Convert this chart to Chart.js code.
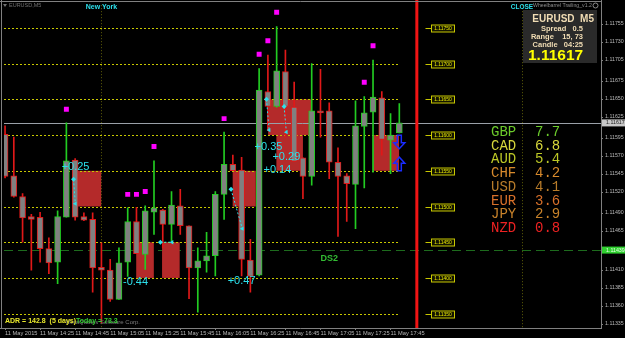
<!DOCTYPE html>
<html>
<head>
<meta charset="utf-8">
<title>EURUSD M5</title>
<style>
  html, body { margin: 0; padding: 0; background: #000; }
  canvas { display: block; }
</style>
</head>
<body>
<canvas id="chart" width="625" height="338"></canvas>
<script src="https://cdn.jsdelivr.net/npm/chart.js@4.4.1/dist/chart.umd.min.js"></script>
<script>
// EURUSD M5, 11 May 2015
var times = ['14:05','14:10','14:15','14:20','14:25','14:30','14:35','14:40','14:45','14:50',
  '14:55','15:00','15:05','15:10','15:15','15:20','15:25','15:30','15:35','15:40',
  '15:45','15:50','15:55','16:00','16:05','16:10','16:15','16:20','16:25','16:30',
  '16:35','16:40','16:45','16:50','16:55','17:00','17:05','17:10','17:15','17:20',
  '17:25','17:30','17:35','17:40','17:45','17:50'];
var opens = [1.11601,1.11543,1.11514,1.11486,1.11485,1.11441,1.11422,1.11485,1.11565,1.11486,
  1.11482,1.11415,1.11411,1.11370,1.11422,1.11479,1.11433,1.11492,1.11495,1.11475,
  1.11501,1.11473,1.11414,1.11424,1.11431,1.11517,1.11559,1.11551,1.11425,1.11404,
  1.11661,1.11640,1.11689,1.11639,1.11568,1.11542,1.11634,1.11634,1.11562,1.11543,
  1.11531,1.11612,1.11632,1.11652,1.11593,1.11603];
var highs = [1.11613,1.11597,1.11518,1.11489,1.11492,1.11456,1.11494,1.11617,1.11567,1.11491,
  1.11491,1.11449,1.11426,1.11442,1.11498,1.11499,1.11501,1.11564,1.11496,1.11521,
  1.11524,1.11473,1.11442,1.11464,1.11521,1.11604,1.11572,1.11569,1.11454,1.11693,
  1.11712,1.11752,1.11719,1.11674,1.11568,1.11700,1.11692,1.11645,1.11582,1.11546,
  1.11648,1.11654,1.11705,1.11661,1.11630,1.11644];
var lows = [1.11540,1.11513,1.11450,1.11411,1.11422,1.11406,1.11392,1.11485,1.11481,1.11480,
  1.11380,1.11337,1.11367,1.11370,1.11402,1.11434,1.11412,1.11461,1.11442,1.11452,
  1.11461,1.11371,1.11352,1.11408,1.11403,1.11482,1.11550,1.11403,1.11380,1.11403,
  1.11606,1.11639,1.11597,1.11563,1.11511,1.11530,1.11597,1.11539,1.11458,1.11479,
  1.11469,1.11526,1.11548,1.11572,1.11546,1.11603];
var closes = [1.11542,1.11514,1.11484,1.11482,1.11441,1.11421,1.11486,1.11564,1.11485,1.11481,
  1.11414,1.11411,1.11370,1.11421,1.11479,1.11434,1.11494,1.11498,1.11475,1.11502,
  1.11473,1.11414,1.11424,1.11431,1.11517,1.11559,1.11550,1.11426,1.11402,1.11663,
  1.11640,1.11690,1.11640,1.11563,1.11542,1.11634,1.11631,1.11562,1.11542,1.11532,
  1.11613,1.11631,1.11653,1.11594,1.11600,1.11617];

var priceTicks = [1.11755,1.11730,1.11705,1.11675,1.11650,1.11625,1.11595,1.11570,1.11545,
  1.11520,1.11490,1.11465,1.11410,1.11385,1.11360,1.11335];
var timeTickIdx = [0,4,8,12,16,20,24,28,32,36,40,44];
var levels = [1.11750,1.11700,1.11650,1.11600,1.11550,1.11500,1.11450,1.11400,1.11350];
var bid = 1.11617;
var ds2Level = 1.11439;

// zones: [from bar, to bar, low, high]
var zones = [[8.28,10.97,1.11500,1.11550],[14.97,16.98,1.11400,1.11450],[17.92,19.93,1.11400,1.11450],
  [25.98,28.62,1.11500,1.11550],[30.03,34.94,1.11600,1.11650],[30.97,34.0,1.11550,1.11600],
  [41.98,44.97,1.11550,1.11600]];
var fractalIdx = [7,14,15,16,17,25,29,30,31,41,42];
var fractalPrice = [1.11636,1.11517,1.11517,1.11521,1.11584,1.11623,1.11713,1.11732,1.11772,1.11674,1.11725];
// trades: [open bar, open price, close bar, close price]
var trades = [[7.82,1.11538,8.02,1.11504],[17.73,1.11450,19.06,1.11450],[25.79,1.11524,27.08,1.11469],
  [29.84,1.11650,30.14,1.11607],[31.85,1.11640,32.11,1.11604]];
var tradeText = ['+0.25','-0.44','+0.35','+0.29','+0.14','+0.47'];
var tradeTextIdx = [6.46,13.46,28.48,30.52,29.5,25.41];
var tradeTextPrice = [1.11555,1.11394,1.11584,1.11570,1.11551,1.11396];

var currencies = ['GBP','CAD','AUD','CHF','USD','EUR','JPY','NZD'];
var strength = [7.7,6.8,5.4,4.2,4.1,3.6,2.9,0.8];
var currencyColors = ['#6ccc2c','#d8d83c','#bcc826','#d88a2c','#b87c2a','#d8702a','#c8822a','#ee2222'];

var UP = '#22cc22', DOWN = '#e01818', CYAN = '#2ce0ec';
var FONT = '"Liberation Sans", Arial, sans-serif';

function dir(i){ return closes[i] >= opens[i]; }

var wickData = times.map(function(t, i){ return {x: i, y: [lows[i], highs[i]]}; });
var bodyData = times.map(function(t, i){ return {x: i, y: [opens[i], closes[i]]}; });
var candleColors = times.map(function(t, i){ return dir(i) ? UP : DOWN; });

var datasets = [
  {type: 'bar', data: bodyData, backgroundColor: '#808080', borderColor: candleColors,
   borderWidth: 1, borderSkipped: false, barThickness: 6, grouped: false, order: 1},
  {type: 'bar', data: wickData, backgroundColor: candleColors, borderWidth: 0,
   barThickness: 1, grouped: false, order: 2},
  {type: 'line', showLine: false, order: 0,
   data: fractalIdx.map(function(v, i){ return {x: v, y: fractalPrice[i]}; }),
   pointStyle: 'rect', pointRadius: 3.5, pointBackgroundColor: '#ff00ff', pointBorderWidth: 0}
];
trades.forEach(function(t){
  datasets.push({type: 'line', order: 0, data: [{x: t[0], y: t[1]}, {x: t[2], y: t[3]}],
    borderColor: CYAN, borderWidth: 1, borderDash: [2, 2],
    pointStyle: ['rectRot', 'triangle'], pointRotation: [0, -90], pointRadius: 2.5,
    pointBackgroundColor: CYAN, pointBorderWidth: 0});
});

function hline(c, x1, x2, y){ c.beginPath(); c.moveTo(x1, y); c.lineTo(x2, y); c.stroke(); }
function vline(c, x, y1, y2){ c.beginPath(); c.moveTo(x, y1); c.lineTo(x, y2); c.stroke(); }

function blockArrow(c, x, tipY, d){
  // d = 1 points down, -1 points up
  var hw = 5.5, sw = 2, hh = 6, sh = 7.5;
  c.beginPath();
  c.moveTo(x, tipY);
  c.lineTo(x - hw, tipY - d * hh);
  c.lineTo(x - sw, tipY - d * hh);
  c.lineTo(x - sw, tipY - d * (hh + sh));
  c.lineTo(x + sw, tipY - d * (hh + sh));
  c.lineTo(x + sw, tipY - d * hh);
  c.lineTo(x + hw, tipY - d * hh);
  c.closePath();
  c.stroke();
}

var mt4 = {
  id: 'mt4',
  beforeDraw: function(chart){
    var c = chart.ctx;
    c.save();
    c.fillStyle = '#000';
    c.fillRect(0, 0, chart.width, chart.height);
    c.restore();
  },
  beforeDatasetsDraw: function(chart){
    var c = chart.ctx, xs = chart.scales.x, ys = chart.scales.y, a = chart.chartArea;
    c.save();
    c.lineWidth = 1;
    // session separators
    c.strokeStyle = '#5e5e08';
    c.setLineDash([1, 2]);
    [11, 59].forEach(function(i){
      vline(c, Math.round(xs.getPixelForValue(i)) + 0.5, a.top, a.bottom);
    });
    // DS2 line
    c.strokeStyle = '#1d6b1d';
    c.setLineDash([9, 5]);
    hline(c, a.left, a.right, Math.round(ys.getPixelForValue(ds2Level)) + 0.5);
    c.setLineDash([]);
    // zones
    c.fillStyle = '#b42a2a';
    zones.forEach(function(z){
      var x1 = xs.getPixelForValue(z[0]), x2 = xs.getPixelForValue(z[1]);
      var y1 = ys.getPixelForValue(z[3]), y2 = ys.getPixelForValue(z[2]);
      c.fillRect(x1, y1, x2 - x1, y2 - y1);
    });
    // round levels
    c.strokeStyle = '#c8c800';
    c.setLineDash([2, 2]);
    levels.forEach(function(l){
      hline(c, a.left, xs.getPixelForValue(45), Math.round(ys.getPixelForValue(l)) + 0.5);
    });
    c.setLineDash([]);
    // bid line
    c.strokeStyle = '#9aa0a8';
    hline(c, a.left, a.right, Math.round(ys.getPixelForValue(bid)) + 0.5);
    // time marker
    c.strokeStyle = '#f01414';
    c.lineWidth = 3;
    vline(c, xs.getPixelForValue(47), 0, a.bottom);
    c.restore();
  },
  afterDraw: function(chart){
    var c = chart.ctx, xs = chart.scales.x, ys = chart.scales.y, a = chart.chartArea;
    c.save();
    c.textBaseline = 'middle';

    // trade results
    c.fillStyle = CYAN;
    c.font = '11px ' + FONT;
    c.textAlign = 'left';
    tradeText.forEach(function(t, i){
      c.fillText(t, xs.getPixelForValue(tradeTextIdx[i]), ys.getPixelForValue(tradeTextPrice[i]));
    });

    // signal arrows
    c.strokeStyle = '#1a2cff';
    c.lineWidth = 1.5;
    blockArrow(c, xs.getPixelForValue(45), ys.getPixelForValue(1.11581), 1);
    blockArrow(c, xs.getPixelForValue(45), ys.getPixelForValue(1.11569), -1);

    // level price labels
    c.lineWidth = 1;
    levels.forEach(function(l){
      var y = Math.round(ys.getPixelForValue(l)) + 0.5;
      var x0 = Math.round(xs.getPixelForValue(48.6)) + 0.5;
      c.strokeStyle = '#c8c800';
      hline(c, x0 - 6, x0, y);
      c.fillStyle = '#141400';
      c.fillRect(x0, y - 3.5, 23, 7);
      c.strokeRect(x0, y - 3.5, 23, 7);
      c.fillStyle = '#e8e800';
      c.font = '5px ' + FONT;
      c.textAlign = 'center';
      c.fillText(l.toFixed(5), x0 + 11.5, y);
    });

    // DS2
    c.fillStyle = '#33bb33';
    c.font = 'bold 9px ' + FONT;
    c.textAlign = 'left';
    c.fillText('DS2', xs.getPixelForValue(36), ys.getPixelForValue(ds2Level) + 8);

    // session names
    c.fillStyle = CYAN;
    c.textAlign = 'center';
    c.font = 'bold 7px ' + FONT;
    c.fillText('New York', xs.getPixelForValue(11), 7);
    c.font = 'bold 6.5px ' + FONT;
    c.fillText('CLOSE', xs.getPixelForValue(59), 7);

    // symbol caption
    c.fillStyle = '#707070';
    c.font = '5.5px ' + FONT;
    c.textAlign = 'left';
    c.fillText('EURUSD,M5', 9, 5.5);
    c.beginPath(); c.moveTo(3, 4); c.lineTo(7, 4); c.lineTo(5, 7); c.closePath(); c.fill();

    // expert name
    c.fillStyle = '#8c8c8c';
    c.font = '5.2px ' + FONT;
    c.fillText('Wheelbarrel Trailing_v1.2', 533, 5.5);
    c.strokeStyle = '#8c8c8c';
    c.beginPath(); c.arc(595.5, 5.5, 2.5, 0, Math.PI * 2); c.stroke();

    // info box
    c.fillStyle = '#2a2a2a';
    c.fillRect(523, 10, 74, 53);
    c.fillStyle = '#f0dcb4';
    c.textAlign = 'right';
    c.font = 'bold 10px ' + FONT;
    c.fillText('EURUSD  M5', 594, 19);
    c.font = 'bold 7.5px ' + FONT;
    c.fillText('Spread   0.5', 583, 28.5);
    c.fillText('Range    15, 73', 583, 36.5);
    c.fillText('Candle   04:25', 583, 45);
    c.fillStyle = '#ffff00';
    c.font = 'bold 15.5px ' + FONT;
    c.textAlign = 'left';
    c.fillText(bid.toFixed(5), 528, 55.5);

    // currency strength
    c.font = '14px "Liberation Mono", monospace';
    currencies.forEach(function(cur, i){
      var y = 132.3 + i * 13.7;
      c.fillStyle = currencyColors[i];
      c.fillText(cur, 491, y);
      c.fillText(strength[i].toFixed(1), 535, y);
    });

    // ADR line
    c.fillStyle = '#7c7c7c';
    c.font = '6px ' + FONT;
    c.textAlign = 'right';
    c.fillText('MetaQuotes Software Corp.', 140, 322);
    c.textAlign = 'left';
    c.font = 'bold 7px ' + FONT;
    c.fillStyle = '#e8e82c';
    c.fillText('ADR = 142.8  (5 days)', 5, 321.5);
    c.fillStyle = '#33cc33';
    c.fillText('Today = 73.3', 76, 321.5);

    // frame
    c.strokeStyle = '#808080';
    c.lineWidth = 1;
    hline(c, 0, a.right, 1.5);
    hline(c, 0, a.right, a.bottom + 0.5);
    vline(c, 1.5, 0, a.bottom);
    vline(c, a.right + 0.5, 0, a.bottom + 1);

    // price boxes on the axis
    c.font = '5.3px ' + FONT;
    c.textAlign = 'left';
    var yb = ys.getPixelForValue(bid);
    c.fillStyle = '#c8c8c8';
    c.fillRect(a.right + 1, yb - 3.5, 24, 7);
    c.fillStyle = '#202020';
    c.fillText(bid.toFixed(5), a.right + 5, yb);
    var yg = ys.getPixelForValue(ds2Level);
    c.fillStyle = '#30d030';
    c.fillRect(a.right + 1, yg - 3.5, 24, 7);
    c.fillStyle = '#e8ffe8';
    c.fillText(ds2Level.toFixed(5), a.right + 5, yg);
    c.restore();
  }
};

new Chart(document.getElementById('chart'), {
  type: 'bar',
  data: {datasets: datasets},
  options: {
    responsive: false,
    animation: false,
    events: [],
    layout: {padding: {left: 1, top: 1, right: 0, bottom: 0}},
    plugins: {legend: {display: false}, tooltip: {enabled: false}},
    scales: {
      x: {
        type: 'linear', min: -0.12, max: 68.02, offset: false,
        grid: {display: true, drawOnChartArea: false, offset: false, tickLength: 2, color: '#808080'},
        border: {display: false},
        ticks: {
          autoSkip: false, maxRotation: 0, align: 'start', padding: 0, color: '#b8b8b8',
          font: {family: 'Liberation Sans', size: 5.7},
          callback: function(v){ return v === 0 ? '11 May 2015' : '11 May ' + times[v]; }
        },
        afterBuildTicks: function(s){ s.ticks = timeTickIdx.map(function(v){ return {value: v}; }); },
        afterFit: function(s){ s.height = 10; }
      },
      y: {
        type: 'linear', position: 'right', min: 1.1132993, max: 1.117818,
        grid: {display: true, drawOnChartArea: false, tickLength: 2, color: '#808080'},
        border: {display: false},
        ticks: {
          padding: 2, color: '#b8b8b8', labelOffset: -1,
          font: {family: 'Liberation Sans', size: 5.3},
          callback: function(v){ return v.toFixed(5); }
        },
        afterBuildTicks: function(s){ s.ticks = priceTicks.map(function(v){ return {value: v}; }); },
        afterFit: function(s){ s.width = 24; }
      }
    }
  },
  plugins: [mt4]
});
</script>
</body>
</html>
